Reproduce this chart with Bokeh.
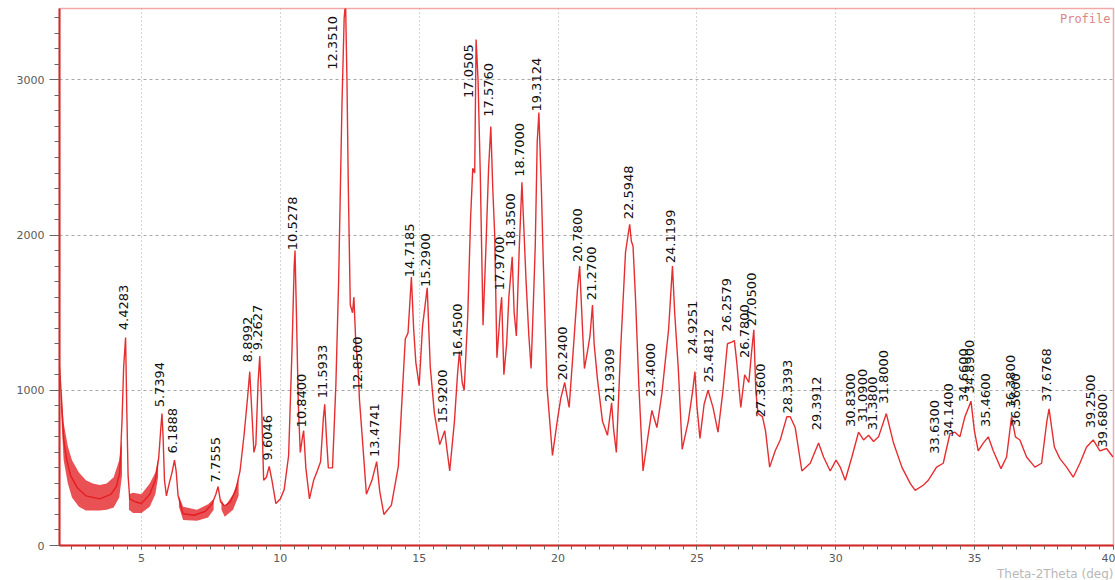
import math
from bokeh.plotting import figure
from bokeh.models import Range1d, Label, SingleIntervalTicker, ColumnDataSource, Title
from bokeh.core.properties import value
from bokeh.embed import file_html
from bokeh.resources import INLINE

# ---------------- data ----------------
two_theta = [2.05, 2.12, 2.2, 2.3, 2.45, 2.7, 3.0, 3.5, 3.9, 4.1, 4.22, 4.3, 4.36, 4.43, 4.47, 4.52, 4.58,
             4.8, 5.0, 5.3, 5.5, 5.62, 5.7, 5.74, 5.78, 5.83, 5.9, 6.0, 6.1, 6.19, 6.25, 6.32,
             6.5, 6.9, 7.3, 7.55, 7.68, 7.76, 7.85, 8.0, 8.2, 8.4, 8.55, 8.7, 8.82, 8.9, 8.97,
             9.05, 9.12, 9.2, 9.26, 9.32, 9.4, 9.5, 9.6, 9.7, 9.84, 10.0, 10.14, 10.3, 10.42,
             10.5, 10.53, 10.58, 10.65, 10.72, 10.8, 10.84, 10.92, 11.05, 11.2, 11.33, 11.45,
             11.55, 11.6, 11.66, 11.73, 11.88, 12.0, 12.1, 12.22, 12.3, 12.35, 12.4, 12.45,
             12.52, 12.6, 12.65, 12.72, 12.8, 12.85, 12.95, 13.1, 13.3, 13.47, 13.58, 13.73,
             14.0, 14.25, 14.4, 14.5, 14.6, 14.72, 14.8, 14.88, 15.0, 15.12, 15.29, 15.4,
             15.55, 15.74, 15.92, 16.0, 16.1, 16.27, 16.38, 16.45, 16.55, 16.62, 16.75, 16.85,
             16.93, 17.0, 17.05, 17.12, 17.2, 17.3, 17.4, 17.5, 17.58, 17.65, 17.72, 17.8,
             17.93, 17.97, 18.05, 18.15, 18.23, 18.35, 18.42, 18.5, 18.6, 18.7, 18.78, 18.85,
             18.95, 19.03, 19.1, 19.18, 19.25, 19.31, 19.4, 19.47, 19.6, 19.8, 19.97, 20.1,
             20.24, 20.4, 20.58, 20.7, 20.78, 20.88, 20.95, 21.06, 21.15, 21.24, 21.3, 21.42,
             21.6, 21.78, 21.93, 22.0, 22.1, 22.25, 22.43, 22.58, 22.64, 22.7, 22.79, 22.91,
             23.06, 23.26, 23.38, 23.56, 23.74, 23.98, 24.12, 24.2, 24.33, 24.47, 24.69, 24.85,
             24.93, 25.0, 25.11, 25.26, 25.4, 25.58, 25.76, 25.94, 26.1, 26.25, 26.35, 26.43,
             26.58, 26.72, 26.87, 26.97, 27.05, 27.12, 27.2, 27.36, 27.47, 27.62, 27.82, 28.0,
             28.24, 28.36, 28.54, 28.78, 29.08, 29.38, 29.56, 29.8, 30.01, 30.16, 30.34, 30.58,
             30.82, 31.0, 31.18, 31.36, 31.54, 31.82, 32.08, 32.38, 32.68, 32.86, 33.16, 33.33,
             33.63, 33.87, 34.11, 34.29, 34.47, 34.65, 34.87, 34.99, 35.13, 35.31, 35.49, 35.67,
             35.95, 36.15, 36.33, 36.47, 36.63, 36.87, 37.17, 37.41, 37.6, 37.68, 37.87, 38.07,
             38.31, 38.55, 38.79, 39.03, 39.27, 39.51, 39.75, 39.98]
intensity = [1150, 960, 680, 560, 450, 370, 320, 300, 330, 380, 470, 800, 1150, 1340, 900, 450, 300,
             280, 270, 330, 420, 560, 760, 850, 700, 420, 320, 400, 470, 550, 480, 320,
             205, 195, 220, 270, 330, 380, 280, 255, 280, 360, 480, 720, 950, 1120, 880,
             600, 650, 1050, 1220, 950, 420, 440, 510, 420, 270, 300, 360, 580, 1250,
             1800, 1900, 1500, 900, 600, 700, 740, 500, 300, 420, 480, 540,
             820, 910, 700, 500, 500, 1030, 1700, 2840, 3400, 3500, 3000, 2300,
             1550, 1500, 1600, 1300, 1150, 940, 700, 330, 420, 540, 350, 200,
             260, 510, 1000, 1330, 1370, 1730, 1400, 1180, 1030, 1410, 1660, 1150,
             850, 650, 740, 620, 480, 800, 1100, 1250, 1050, 1000, 1480, 2100,
             2430, 2400, 3260, 3000, 2400, 1420, 1900, 2430, 2700, 2300, 2000, 1210,
             1530, 1600, 1100, 1300, 1600, 1860, 1500, 1350, 1900, 2340, 2000, 1700,
             1350, 1140, 1500, 1930, 2600, 2790, 2300, 1820, 1030, 580, 800, 950,
             1050, 890, 1340, 1650, 1800, 1400, 1140, 1250, 1350, 1550, 1300, 1070,
             800, 710, 920, 750, 600, 1250, 1890, 2070, 1960, 1930, 1590, 1030,
             480, 730, 870, 760, 980, 1390, 1800, 1500, 1140, 620, 800, 1000,
             1120, 900, 690, 910, 1000, 890, 730, 1000, 1300, 1310, 1320, 1190,
             890, 1100, 1050, 1250, 1390, 1000, 850, 830, 740, 505, 610, 680,
             830, 830, 760, 480, 530, 660, 570, 480, 550, 505, 420, 570,
             730, 680, 710, 670, 700, 850, 660, 505, 400, 355, 390, 420,
             505, 530, 720, 730, 700, 830, 930, 740, 610, 660, 700, 610,
             495, 570, 830, 700, 680, 570, 505, 530, 800, 880, 635, 560,
             505, 440, 530, 635, 680, 610, 625, 570]

# noisy low-angle stretches: upper / lower envelope of the scatter
noise_x = [[2.1, 2.2, 2.35, 2.5, 2.75, 3.0, 3.25, 3.5, 3.75, 4.0, 4.2, 4.3],
           [4.55, 4.7, 5.0, 5.3, 5.5, 5.6],
           [6.35, 6.5, 7.0, 7.4, 7.6],
           [7.88, 8.0, 8.3, 8.5]]
noise_hi = [[1000, 790, 640, 550, 470, 420, 400, 390, 400, 440, 550, 680],
            [330, 340, 330, 400, 470, 560],
            [320, 250, 230, 265, 300],
            [300, 250, 330, 430]]
noise_lo = [[880, 550, 400, 310, 250, 225, 225, 225, 230, 245, 310, 450],
            [230, 210, 210, 250, 330, 440],
            [250, 165, 160, 180, 230],
            [230, 185, 230, 320]]

peak_labels = ["4.4283", "5.7394", "6.1888", "7.7555", "8.8992", "9.2627", "9.6046", "10.5278",
               "10.8400", "11.5933", "12.3510", "12.8500", "13.4741", "14.7185", "15.2900",
               "15.9200", "16.4500", "17.0505", "17.5760", "17.9700", "18.3500", "18.7000",
               "19.3124", "20.2400", "20.7800", "21.2700", "21.9309", "22.5948", "23.4000",
               "24.1199", "24.9251", "25.4812", "26.2579", "26.7800", "27.0500", "27.3600",
               "28.3393", "29.3912", "30.8300", "31.0900", "31.3800", "31.8000", "33.6300",
               "34.1400", "34.6600", "34.8900", "35.4600", "36.3800", "36.5600", "37.6768",
               "39.2500", "39.6800"]
peak_pos = [float(s) for s in peak_labels]
label_base = [1387, 890, 593, 406, 1181, 1258, 548, 1903,
              761, 948, 3065, 1000, 570, 1729, 1665,
              787, 1213, 2884, 2763, 1645, 1923, 2376,
              2796, 1065, 1826, 1581, 925, 2102, 959,
              1819, 1231, 1050, 1378, 1208, 1412, 826,
              850, 742, 763, 792, 742, 914, 591,
              699, 925, 980, 763, 882, 763, 925,
              755, 632]

x_axis_title = "Theta-2Theta (deg)"
y_ticks_step = 1000
x_ticks_step = 5

# ---------------- layout / style ----------------
W, H = 1115, 580
p = figure(width=W, height=H, output_backend="svg", toolbar_location=None,
           x_range=Range1d(2.05, 40.0), y_range=Range1d(0, 3460),
           min_border_left=59, min_border_right=2, min_border_top=8, min_border_bottom=35)
p.background_fill_color = "white"
p.border_fill_color = "white"
p.outline_line_color = "#f2a8a8"
p.outline_line_width = 1.5

RED = "#e3171b"
for xs, hi, lo in zip(noise_x, noise_hi, noise_lo):
    p.varea(x=xs, y1=lo, y2=hi, fill_color=RED, fill_alpha=0.75)
p.line(two_theta, intensity, line_color=RED, line_width=1.4, line_alpha=0.9)

# peak labels (rotated text starting just above each peak)
nudge = {"12.3510": -13, "17.0505": -8, "30.8300": -8, "26.2579": -5, "31.0900": -4}
offsets = [nudge.get(s, -2) for s in peak_labels]
src = ColumnDataSource(dict(x=peak_pos, y=label_base, t=peak_labels, dx=offsets))
p.text(x="x", y="y", text="t", source=src, angle=math.pi / 2, x_offset="dx",
       text_align="left", text_baseline="middle", text_color="#111111",
       text_font=value("DejaVu Sans"), text_font_size="13px")

# axes
p.xaxis.ticker = SingleIntervalTicker(interval=x_ticks_step, num_minor_ticks=10)
p.yaxis.ticker = SingleIntervalTicker(interval=y_ticks_step, num_minor_ticks=10)
for ax in (p.xaxis[0], p.yaxis[0]):
    ax.axis_line_color = "#d02a2a"
    ax.axis_line_width = 2
    ax.major_tick_line_color = "#666666"
    ax.minor_tick_line_color = "#666666"
    ax.major_tick_in = 0
    ax.minor_tick_in = 0
    ax.major_label_text_font = "DejaVu Sans"
    ax.major_label_text_color = "#5a5a5a"
p.yaxis.major_tick_out = 10
p.yaxis.minor_tick_out = 5
p.xaxis.major_tick_out = 4
p.xaxis.minor_tick_out = 4
p.yaxis.major_label_text_font_size = "11px"
p.xaxis.major_label_text_font_size = "11px"
p.xaxis.major_label_standoff = 4
p.yaxis.major_label_standoff = 5

p.xgrid.grid_line_color = "#a8a8a8"
p.xgrid.grid_line_dash = "1 3"
p.ygrid.grid_line_color = "#a8a8a8"
p.ygrid.grid_line_dash = "3 3"

# x-axis title at the lower right, below the tick labels
p.add_layout(Title(text=x_axis_title, align="right", text_font="DejaVu Sans",
                   text_font_size="12px", text_font_style="normal", text_color="#b8b8b8",
                   standoff=0, offset=0), "below")

p.add_layout(Label(x=W - 59 - 2 - 3, y=H - 8 - 35 - 3, x_units="screen", y_units="screen",
                   text="Profile", text_color="#e08585", text_font_size="12px",
                   text_font="DejaVu Sans Mono", text_align="right", text_baseline="top"))

open("out.html", "w").write(file_html(p, INLINE))
